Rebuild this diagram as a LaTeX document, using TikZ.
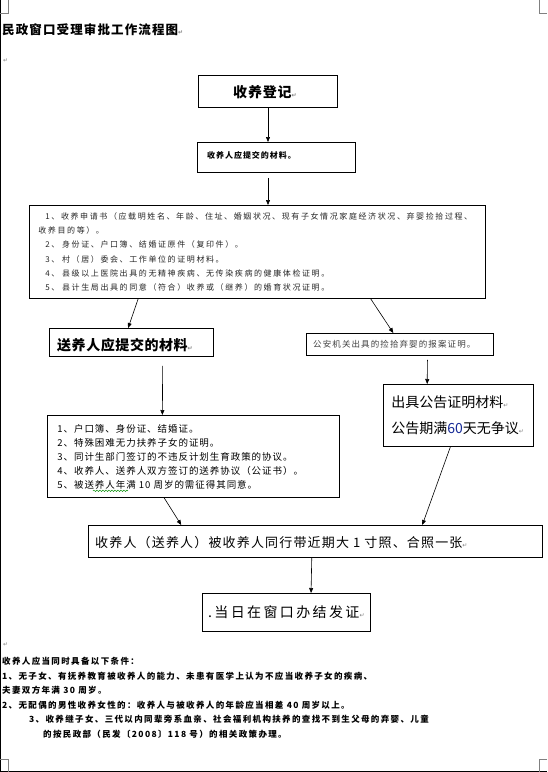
\documentclass[tikz,border=0pt]{standalone}
\usepackage{fontspec}
\setmainfont{Noto Sans CJK SC}
\newfontfamily\symfont{DejaVu Sans}
\usetikzlibrary{arrows.meta,calc,decorations.pathmorphing}
\newcommand{\pmark}{{\symfont\fontsize{6}{6}\selectfont\textcolor{gray}{↵}}}
\newcommand{\fs}[3]{\fontsize{#1}{#2}\selectfont\addfontfeatures{LetterSpace=#3}}
\begin{document}
\begin{tikzpicture}[x=1pt,y=-1pt,
  box/.style={draw, line width=0.8pt, inner sep=0pt, anchor=north west},
  txt/.style={inner sep=0pt},
  conn/.style={line width=0.6pt, -{Triangle[length=5pt,width=4pt]}},
  cropline/.style={gray, line width=0.5pt}]
\useasboundingbox (0,0) rectangle (547,772);
\fill[white] (0,0) rectangle (547,772);
% page border lines and crop marks
\draw[line width=0.8pt] (0.4,0) coordinate (pl1) -- (0.4,772) coordinate (pl2);
\draw[line width=0.8pt] (0,771.6) coordinate (pb1) -- (547,771.6) coordinate (pb2);
\draw[cropline] (8,0) -- (8,13) -- (0,13);
\draw[cropline] (539,0) -- (539,13) -- (547,13);
\draw[cropline] (0,759) -- (8,759) -- (8,772);
\draw[cropline] (547,759) -- (539,759) -- (539,772);

% title
\node[txt, anchor=west] (title) at (2,30) {\bfseries\fs{12.5}{14}{9}民政窗口受理审批工作流程图\pmark};
\node[txt, anchor=west] (pm1) at (3,61) {\pmark};

% box 1
\node[box, minimum width=139pt, minimum height=32pt] (b1) at (198,75) {};
\node[txt, anchor=west] (t1) at (233,92) {\bfseries\fs{14}{16}{6}收养登记\pmark};

% box 2
\node[box, minimum width=158pt, minimum height=30pt] (b2) at (197,142) {};
\node[txt, anchor=west] (t2) at (207,155) {\bfseries\fs{8}{10}{12}收养人应提交的材料。};

% box 3
\node[box, minimum width=456pt, minimum height=93pt, inner xsep=9pt, text width=438pt, align=left,
  font=\fs{8}{14.3}{20}, text=black!85] (b3) at (29,205)
 {\hspace*{7pt}1、收养申请书（应载明姓名、年龄、住址、婚姻状况、现有子女情况家庭经济状况、弃婴捡拾过程、\\
 收养目的等）。\\
 \hspace*{7pt}2、 身份证、户口簿、结婚证原件（复印件）。\\
 \hspace*{7pt}3、 村（居）委会、工作单位的证明材料。\\
 \hspace*{7pt}4、 县级以上医院出具的无精神疾病、无传染疾病的健康体检证明。\\
 \hspace*{7pt}5、 县计生局出具的同意（符合）收养或（继养）的婚育状况证明。};

% box 4
\node[box, minimum width=164pt, minimum height=28pt] (b4) at (49,328) {};
\node[txt, anchor=west] (t4) at (57,345) {\bfseries\fs{14}{16}{4}送养人应提交的材料\pmark};

% box 5
\node[box, minimum width=187pt, minimum height=22pt] (b5) at (306,333) {};
\node[txt, anchor=west] (t5) at (313,344) {\fs{8.5}{10}{13}\color{black!75}公安机关出具的捡拾弃婴的报案证明。};

% box 6
\node[box, minimum width=292pt, minimum height=82pt, inner xsep=10pt, text width=272pt, align=left,
  font=\fs{9.5}{14}{10}] (b6) at (47,415)
 {1、户口簿、身份证、结婚证。\\
 2、特殊困难无力扶养子女的证明。\\
 3、同计生部门签订的不违反计划生育政策的协议。\\
 4、收养人、送养人双方签订的送养协议（公证书）。\\
 5、被送养人年满 10 周岁的需征得其同意。};
\draw[green!55!black, line width=0.5pt, decorate, decoration={snake, amplitude=0.7pt, segment length=3pt}]
  ([xshift=46pt,yshift=7pt]b6.south west) -- ([xshift=81pt,yshift=7pt]b6.south west);

% box 7
\node[box, minimum width=150pt, minimum height=62pt, inner xsep=8pt, text width=134pt, align=left,
  font=\fs{14}{26}{0}] (b7) at (383,384)
 {出具公告证明材料\pmark\\
 公告期满{\color[RGB]{20,40,150}60}天无争议\pmark};

% box 8
\node[box, minimum width=454pt, minimum height=32pt] (b8) at (88,525) {};
\node[txt, anchor=west] (t8) at (95,543) {\fs{13}{15}{9}收养人（送养人）被收养人同行带近期大 1 寸照、合照一张\pmark};

% box 9
\node[box, minimum width=168pt, minimum height=38pt] (b9) at (202,593) {};
\node[txt, anchor=west] (t9) at (208,612) {\fs{14}{16}{17}.当日在窗口办结发证\pmark};

% connectors
\draw[conn] (b1.south -| 268,0) -- (b2.north -| 268,0);
\draw[conn, shorten <=5pt] (b2.south -| 268,0) -- (b3.north -| 268,0);
\draw[conn] ($(b3.south west)!0.239!(b3.south east)$) -- ($(b4.north west)!0.48!(b4.north east)$);
\draw[conn] ($(b3.south west)!0.748!(b3.south east)$) -- ($(b5.north west)!0.465!(b5.north east)$);
\draw[conn, shorten <=9pt] ($(b4.south west)!0.69!(b4.south east)$) -- ($(b6.north west)!0.394!(b6.north east)$);
\draw[conn, shorten <=4pt] ($(b5.south west)!0.647!(b5.south east)$) -- ($(b7.north west)!0.293!(b7.north east)$);
\draw[conn] ($(b6.south west)!0.40!(b6.south east)$) -- ($(b8.north west)!0.205!(b8.north east)$);
\draw[conn] ($(b7.south west)!0.447!(b7.south east)$) -- ($(b8.north west)!0.735!(b8.north east)$);
\draw[conn] ($(b8.south west)!0.492!(b8.south east)$) -- ($(b9.north west)!0.646!(b9.north east)$);

% bottom text
\node[txt, anchor=north west, align=left, font=\bfseries\fs{8.5}{14.5}{16}] (notes) at (2,657)
 {收养人应当同时具备以下条件：\\
 1、无子女、有抚养教育被收养人的能力、未患有医学上认为不应当收养子女的疾病、\\
 夫妻双方年满 30 周岁。\\
 2、无配偶的男性收养女性的：收养人与被收养人的年龄应当相差 40 周岁以上。\\
 \hspace*{27pt}3、收养继子女、三代以内同辈旁系血亲、社会福利机构扶养的查找不到生父母的弃婴、儿童\\
 \hspace*{41pt}的按民政部（民发〔2008〕118 号）的相关政策办理。};
\node[txt, anchor=west] (pm2) at (3,645) {\pmark};
\end{tikzpicture}
\end{document}
